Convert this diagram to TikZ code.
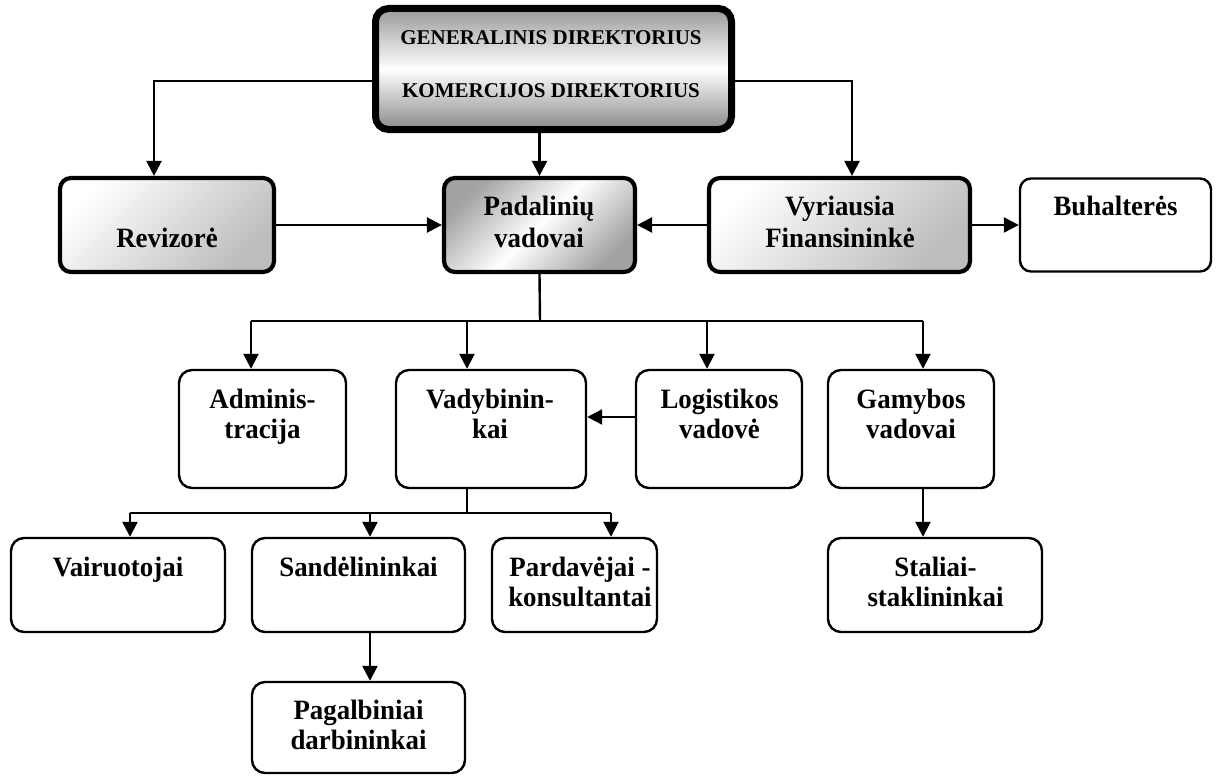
\documentclass[tikz,border=0pt]{standalone}
\usepackage{fontspec}
\setmainfont{Liberation Serif}
\newfontfamily\boxfont[FakeStretch=0.96]{Liberation Serif}
\usetikzlibrary{arrows.meta}
\begin{document}
\begin{tikzpicture}[x=1pt,y=1pt,
  conn/.style={line width=2.4pt},
  arr/.style={conn,-{Triangle[length=15pt,width=15pt]}},
  plainbox/.style={draw, line width=2.4pt, rounded corners=13pt, fill=white, inner sep=0pt},
  shadebox/.style={draw, line width=4.2pt, rounded corners=11pt, inner sep=0pt},
  lightdark/.style={top color=white, bottom color=black!26, shading angle=45},
  lbl/.style={font=\boxfont\fontsize{28}{32}\selectfont\bfseries, inner sep=0pt, anchor=base},
  toplbl/.style={font=\fontsize{21}{25}\selectfont\bfseries, inner sep=0pt, anchor=base},
]
\useasboundingbox (0,0) rectangle (1219,-776);

% --- top management box
\node[draw, line width=7pt, rounded corners=13pt, inner sep=0pt,
      top color=black!40, bottom color=black!46, middle color=white,
      minimum width=356pt, minimum height=121pt] (top) at (553.5,-69) {};
\node[toplbl] (top-t1) at (551,-45) {GENERALINIS DIREKTORIUS};
\node[toplbl] (top-t2) at (551,-97) {KOMERCIJOS DIREKTORIUS};

% --- first level
\node[shadebox, lightdark, minimum width=214pt, minimum height=94pt] (rev) at (167,-225) {};
\node[lbl] (rev-t) at (167,-247) {Revizorė};

\node[shadebox, top color=black!36, bottom color=black!36, middle color=white, shading angle=45,
      minimum width=191pt, minimum height=94pt] (pad) at (539.5,-225) {};
\node[lbl] (pad-t1) at (539,-215) {Padalinių};
\node[lbl] (pad-t2) at (539,-247) {vadovai};

\node[shadebox, lightdark, minimum width=261pt, minimum height=94pt] (vyr) at (839.5,-225) {};
\node[lbl] (vyr-t1) at (840,-215) {Vyriausia};
\node[lbl] (vyr-t2) at (840,-247) {Finansininkė};

\node[plainbox, rounded corners=11pt, minimum width=191pt, minimum height=93pt] (buh) at (1115.5,-225) {};
\node[lbl] (buh-t) at (1115.5,-215) {Buhalterės};

% --- second level
\node[plainbox, minimum width=167pt, minimum height=118pt] (adm) at (262.5,-429) {};
\node[lbl] (adm-t1) at (262.5,-408) {Adminis-};
\node[lbl] (adm-t2) at (262.5,-438) {tracija};

\node[plainbox, minimum width=190pt, minimum height=118pt] (vad) at (491,-429) {};
\node[lbl] (vad-t1) at (490,-408) {Vadybinin-};
\node[lbl] (vad-t2) at (490,-438) {kai};

\node[plainbox, minimum width=166pt, minimum height=118pt] (log) at (719,-429) {};
\node[lbl] (log-t1) at (719.5,-408) {Logistikos};
\node[lbl] (log-t2) at (719.5,-438) {vadovė};

\node[plainbox, minimum width=166pt, minimum height=118pt] (gam) at (911,-429) {};
\node[lbl] (gam-t1) at (911,-408) {Gamybos};
\node[lbl] (gam-t2) at (911,-438) {vadovai};

% --- third level
\node[plainbox, minimum width=214pt, minimum height=94pt] (vai) at (118,-585) {};
\node[lbl] (vai-t) at (118,-576) {Vairuotojai};

\node[plainbox, minimum width=213pt, minimum height=94pt] (san) at (358.5,-585) {};
\node[lbl] (san-t) at (358.5,-576) {Sandėlininkai};

\node[plainbox, minimum width=165pt, minimum height=94pt] (par) at (574.5,-585) {};
\node[lbl] (par-t1) at (580,-576) {Pardavėjai -};
\node[lbl] (par-t2) at (580,-606) {konsultantai};

\node[plainbox, minimum width=214pt, minimum height=94pt] (sta) at (935,-585) {};
\node[lbl] (sta-t1) at (935.5,-576) {Staliai-};
\node[lbl] (sta-t2) at (935.5,-606) {staklininkai};

% --- fourth level
\node[plainbox, minimum width=213pt, minimum height=91pt] (pag) at (358.5,-727.5) {};
\node[lbl] (pag-t1) at (358.5,-719) {Pagalbiniai};
\node[lbl] (pag-t2) at (358.5,-749) {darbininkai};

% --- connectors from the top box
\coordinate (jl) at (154,-81);
\coordinate (jr) at (852,-81);
\draw[arr] (top.west |- jl) -- (jl) -- (jl |- rev.north);
\draw[arr] (top.east |- jr) -- (jr) -- (jr |- vyr.north);
\draw[arr] (pad.north |- top.south) -- (pad.north);

% --- first level links
\draw[arr] (rev.east) -- (pad.west);
\draw[arr] (vyr.west) -- (pad.east);
\draw[arr] (vyr.east) -- (buh.west);

% --- bus below the unit heads
\coordinate (bus) at (540,-321);
\coordinate (b-adm) at (251,-321);
\coordinate (b-vad) at (467,-321);
\coordinate (b-log) at (707,-321);
\coordinate (b-gam) at (923,-321);
\draw[conn] (pad.south) -- (bus);
\draw[conn] (b-adm) -- (b-gam);
\draw[arr] (b-adm) -- (b-adm |- adm.north);
\draw[arr] (b-vad) -- (b-vad |- vad.north);
\draw[arr] (b-log) -- (b-log |- log.north);
\draw[arr] (b-gam) -- (b-gam |- gam.north);

\coordinate (lv) at (611,-417);
\draw[arr] (lv -| log.west) -- (lv -| vad.east);

% --- bus below the managers
\coordinate (bus2) at (467,-513);
\coordinate (b-vai) at (130,-513);
\coordinate (b-san) at (370,-513);
\coordinate (b-par) at (611,-513);
\draw[conn] (bus2 |- vad.south) -- (bus2);
\draw[conn] (b-vai) -- (b-par);
\draw[arr] (b-vai) -- (b-vai |- vai.north);
\draw[arr] (b-san) -- (b-san |- san.north);
\draw[arr] (b-par) -- (b-par |- par.north);

% --- lower links
\draw[arr] (b-san |- san.south) -- (b-san |- pag.north);
\draw[arr] (b-gam |- gam.south) -- (b-gam |- sta.north);
\end{tikzpicture}
\end{document}
